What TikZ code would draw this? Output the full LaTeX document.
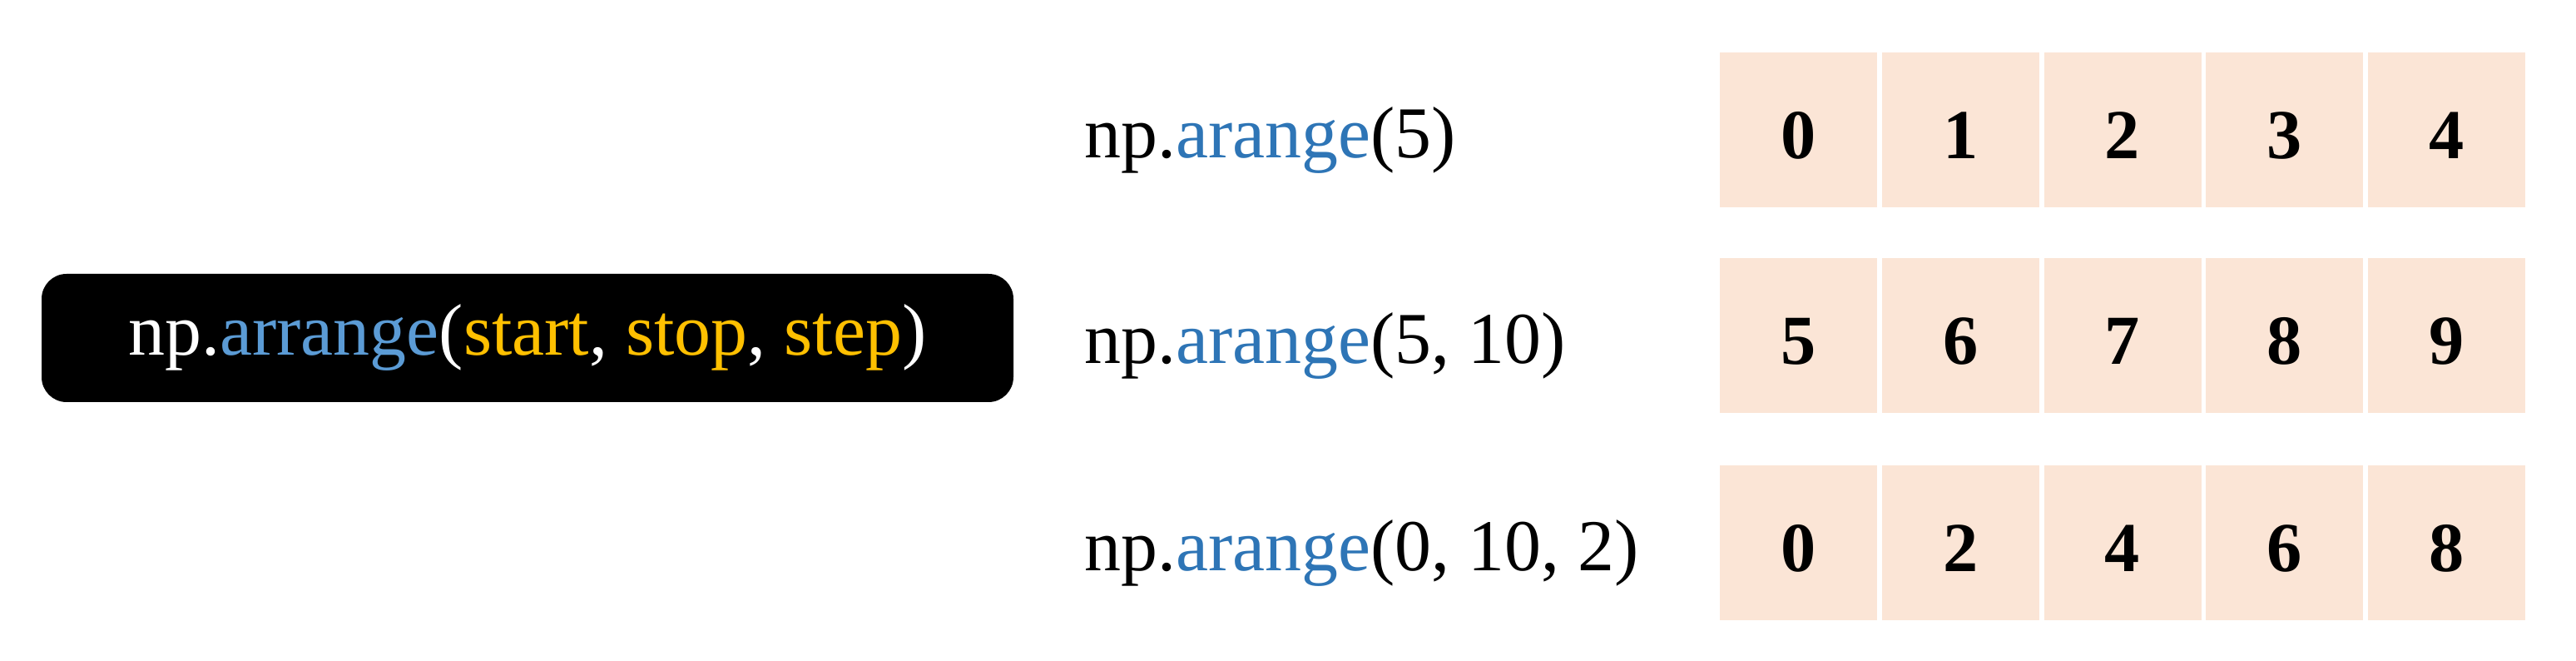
\documentclass[tikz,border=0pt]{standalone}
\usepackage{fontspec}
\setmainfont{Liberation Serif}
\definecolor{callblue}{HTML}{2E75B6}
\definecolor{argblue}{HTML}{5B9BD5}
\definecolor{argyellow}{HTML}{FFC000}
\definecolor{cellfill}{HTML}{FBE5D6}
\tikzset{
  cell/.style={fill=cellfill, minimum width=1.89cm, minimum height=1.86cm,
    inner sep=0pt, text height=0.69cm, text depth=0pt,
    font=\fontsize{24}{28}\selectfont\bfseries},
  call/.style={anchor=base west, inner sep=0pt, font=\fontsize{25}{30}\selectfont},
  sigbox/.style={fill=black, rounded corners=0.3cm, minimum width=11.68cm,
    minimum height=1.54cm, text=white, font=\fontsize{25}{30}\selectfont}
}
\begin{document}
\begin{tikzpicture}
  \useasboundingbox (0,0) rectangle (30.96,7.94);
  % signature
  \node[sigbox] (sig) at (6.34,3.88)
    {np.\textcolor{argblue}{arrange}(\textcolor{argyellow}{start}, \textcolor{argyellow}{stop}, \textcolor{argyellow}{step})};
  % calls
  \node[call] (call1) at (13.03,6.04) {np.\textcolor{callblue}{arange}(5)};
  \node[call] (call2) at (13.03,3.57) {np.\textcolor{callblue}{arange}(5, 10)};
  \node[call] (call3) at (13.03,1.08) {np.\textcolor{callblue}{arange}(0, 10, 2)};
  % results
  \foreach \v [count=\i from 0] in {0,1,2,3,4}
    \node[cell] (a\i) at ({21.615+1.9475*\i},6.38) {\v};
  \foreach \v [count=\i from 0] in {5,6,7,8,9}
    \node[cell] (b\i) at ({21.615+1.9475*\i},3.91) {\v};
  \foreach \v [count=\i from 0] in {0,2,4,6,8}
    \node[cell] (c\i) at ({21.615+1.9475*\i},1.42) {\v};
\end{tikzpicture}
\end{document}
